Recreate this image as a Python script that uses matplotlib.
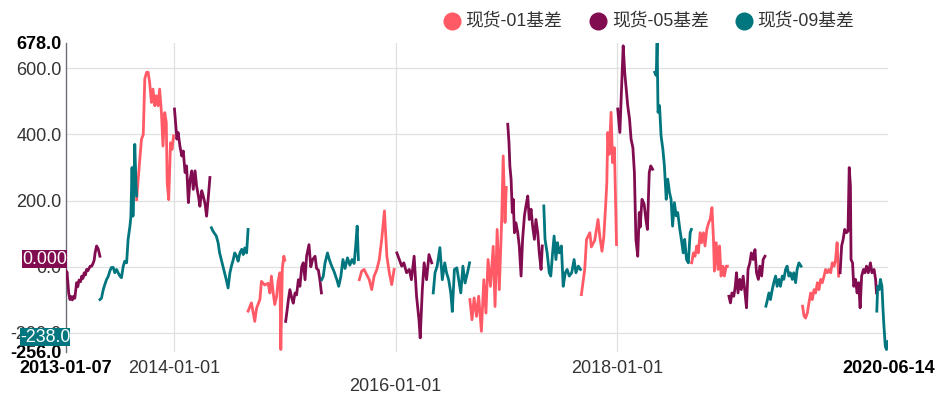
import matplotlib
matplotlib.use("Agg")
import matplotlib.pyplot as plt
import numpy as np
import pandas as pd
from matplotlib.patches import Rectangle
from matplotlib.lines import Line2D

plt.rcParams['font.family'] = ['Liberation Sans', 'Noto Sans CJK SC', 'DejaVu Sans']

# ---------------- data ----------------
series_names = ["现货-01基差", "现货-05基差", "现货-09基差"]
series_colors = ["#ff5a66", "#820c50", "#01767f"]

dates_01 = [
    "2013-08-29", "2013-09-04", "2013-09-09", "2013-09-14", "2013-09-20", "2013-09-25", "2013-10-01",
    "2013-10-06", "2013-10-11", "2013-10-17", "2013-10-22", "2013-10-28", "2013-11-02", "2013-11-08",
    "2013-11-13", "2013-11-19", "2013-11-24", "2013-11-30", "2013-12-05", "2013-12-08", "2013-12-13",
    "2013-12-19", "2013-12-24", "2013-12-29",
    "2014-09-01", "2014-09-12", "2014-09-23", "2014-09-29", "2014-10-10", "2014-10-15", "2014-10-26",
    "2014-11-06", "2014-11-12", "2014-11-17", "2014-11-23", "2014-11-28", "2014-12-04", "2014-12-09",
    "2014-12-15", "2014-12-18", "2014-12-23", "2014-12-28", "2014-12-31",
    "2015-09-03", "2015-09-11", "2015-09-19", "2015-09-28", "2015-10-06", "2015-10-14", "2015-10-22",
    "2015-10-31", "2015-11-08", "2015-11-16", "2015-11-25", "2015-12-03", "2015-12-11", "2015-12-19",
    "2015-12-27",
    "2016-09-02", "2016-09-09", "2016-09-16", "2016-09-24", "2016-10-01", "2016-10-10", "2016-10-18",
    "2016-10-25", "2016-11-01", "2016-11-09", "2016-11-18", "2016-11-24", "2016-12-01", "2016-12-08",
    "2016-12-16", "2016-12-21", "2016-12-27", "2016-12-31",
    "2017-09-05", "2017-09-16", "2017-09-22", "2017-10-03", "2017-10-08", "2017-10-19", "2017-10-30",
    "2017-11-05", "2017-11-12", "2017-11-18", "2017-11-24", "2017-11-28", "2017-12-01", "2017-12-06",
    "2017-12-12", "2017-12-17", "2017-12-23", "2017-12-30",
    "2018-09-04", "2018-09-10", "2018-09-15", "2018-09-21", "2018-09-26", "2018-10-02", "2018-10-07",
    "2018-10-13", "2018-10-18", "2018-10-24", "2018-10-30", "2018-11-04", "2018-11-10", "2018-11-15",
    "2018-11-18", "2018-11-24", "2018-11-30", "2018-12-05", "2018-12-10", "2018-12-16", "2018-12-21",
    "2018-12-27", "2018-12-31",
    "2019-09-05", "2019-09-10", "2019-09-15", "2019-09-21", "2019-09-26", "2019-10-02", "2019-10-07",
    "2019-10-13", "2019-10-18", "2019-10-24", "2019-10-29", "2019-11-04", "2019-11-09", "2019-11-15",
    "2019-11-20", "2019-11-26", "2019-12-01", "2019-12-07", "2019-12-12", "2019-12-18", "2019-12-23",
    "2019-12-28", "2020-01-02",
]
basis_01 = [
    203, 274, 330, 385, 400, 568, 588,
    588, 558, 497, 537, 487, 517, 487,
    537, 466, 365, 466, 436, 253, 203,
    375, 355, 396,
    -134, -109, -165, -125, -99, -44, -55,
    -50, -79, -28, -80, -114, -90, -44,
    -18, -250, -5, 32, 20,
    -39, -13, -8, -25, -39, -69, -28,
    -8, 22, 83, 169, 32, -18, -54,
    -8,
    -99, -160, -94, -150, -89, -195, -39,
    -140, 22, -59, 62, -120, 113, -69,
    143, 335, 134, 240,
    -84, -8, 83, 103, 60, 80, 143,
    90, 47, 90, 184, 254, 406, 340,
    467, 315, 360, 67,
    12, 42, 32, 63, 42, 103, 73,
    103, 63, 113, 133, 143, 179, 83,
    -13, 73, -8, 63, -28, 2, -28,
    2, 2,
    -119, -149, -155, -139, -109, -79, -99,
    -69, -79, -48, -69, -38, -48, -28,
    -8, -18, -8, -18, 12, 2, 22,
    73, -28,
]

dates_05 = [
    "2013-01-07", "2013-01-09", "2013-01-11", "2013-01-14", "2013-01-17", "2013-01-21", "2013-01-25",
    "2013-01-29", "2013-02-02", "2013-02-06", "2013-02-09", "2013-02-12", "2013-02-16", "2013-02-20",
    "2013-02-25", "2013-03-01", "2013-03-05", "2013-03-09", "2013-03-13", "2013-03-17", "2013-03-21",
    "2013-03-25", "2013-03-29", "2013-04-03", "2013-04-08", "2013-04-11", "2013-04-14", "2013-04-17",
    "2013-04-19", "2013-04-24", "2013-04-30",
    "2014-01-01", "2014-01-05", "2014-01-09", "2014-01-13", "2014-01-19", "2014-01-25", "2014-01-30",
    "2014-02-05", "2014-02-10", "2014-02-16", "2014-02-21", "2014-02-27", "2014-03-04", "2014-03-10",
    "2014-03-15", "2014-03-21", "2014-03-26", "2014-04-01", "2014-04-06", "2014-04-12", "2014-04-17",
    "2014-04-23", "2014-04-28",
    "2015-01-03", "2015-01-08", "2015-01-12", "2015-01-17", "2015-01-23", "2015-01-28", "2015-02-03",
    "2015-02-08", "2015-02-14", "2015-02-19", "2015-02-25", "2015-03-02", "2015-03-08", "2015-03-13",
    "2015-03-21", "2015-03-27", "2015-04-02", "2015-04-10", "2015-04-15", "2015-04-21", "2015-04-26",
    "2015-05-01",
    "2016-01-05", "2016-01-13", "2016-01-21", "2016-01-28", "2016-02-06", "2016-02-15", "2016-02-22",
    "2016-03-02", "2016-03-10", "2016-03-18", "2016-03-22", "2016-03-29", "2016-04-04", "2016-04-12",
    "2016-04-20", "2016-04-29",
    "2017-01-05", "2017-01-09", "2017-01-12", "2017-01-16", "2017-01-20", "2017-01-23", "2017-01-27",
    "2017-02-01", "2017-02-07", "2017-02-12", "2017-02-18", "2017-02-23", "2017-03-01", "2017-03-06",
    "2017-03-12", "2017-03-17", "2017-03-23", "2017-03-28", "2017-04-03", "2017-04-08", "2017-04-14",
    "2017-04-19", "2017-04-25", "2017-04-29",
    "2018-01-03", "2018-01-10", "2018-01-13", "2018-01-18", "2018-01-21", "2018-01-26", "2018-01-31",
    "2018-02-05", "2018-02-11", "2018-02-16", "2018-02-22", "2018-02-27", "2018-03-04", "2018-03-10",
    "2018-03-15", "2018-03-18", "2018-03-24", "2018-03-31", "2018-04-06", "2018-04-11", "2018-04-17",
    "2018-04-22", "2018-04-28",
    "2019-01-05", "2019-01-10", "2019-01-15", "2019-01-21", "2019-01-26", "2019-01-30", "2019-02-04",
    "2019-02-10", "2019-02-15", "2019-02-21", "2019-02-26", "2019-03-04", "2019-03-09", "2019-03-15",
    "2019-03-20", "2019-03-26", "2019-04-01", "2019-04-06", "2019-04-12", "2019-04-17", "2019-04-23",
    "2019-04-28", "2019-05-04",
    "2020-01-07", "2020-01-12", "2020-01-17", "2020-01-22", "2020-01-28", "2020-02-02", "2020-02-06",
    "2020-02-10", "2020-02-12", "2020-02-17", "2020-02-21", "2020-02-27", "2020-03-03", "2020-03-08",
    "2020-03-13", "2020-03-18", "2020-03-24", "2020-03-29", "2020-04-03", "2020-04-09", "2020-04-16",
    "2020-04-21", "2020-04-28", "2020-05-03", "2020-05-06",
]
basis_05 = [
    -10, -35, -15, -45, -80, -99, -90,
    -100, -89, -95, -70, -48, -60, -40,
    -45, -28, -35, -18, -25, -8, -12,
    -5, 2, 2, 12, 20, 42, 55,
    63, 55, 32,
    477, 430, 386, 406, 365, 335, 350,
    285, 305, 194, 260, 290, 234, 290,
    244, 214, 183, 230, 214, 190, 153,
    214, 270,
    -165, -130, -99, -69, -94, -110, -79,
    -85, -39, -59, 0, 12, -39, 32,
    67, 0, 22, 32, -5, -10, -40,
    -79,
    42, 22, 2, 12, -18, -8, -39,
    32, -89, -160, -215, -69, 12, -39,
    37, 12,
    431, 376, 305, 265, 164, 204, 103,
    133, 103, 63, -28, 83, 154, 184,
    214, 143, 174, 123, 83, 143, 103,
    42, -8, 63,
    477, 406, 477, 588, 668, 588, 537,
    487, 446, 386, 360, 285, 83, 32,
    164, 120, 204, 190, 143, 113, 285,
    305, 295,
    -89, -109, -79, -89, -59, -18, -79,
    -38, -69, -28, -69, -124, -8, 12,
    42, 22, 52, -18, -38, 2, -28,
    22, 32,
    -18, 63, 83, 113, 103, 108, 300,
    244, 22, 12, -59, -38, -79, -48,
    -124, -28, -8, -18, 2, -18, 12,
    -18, -8, -38, -79,
]

dates_09 = [
    "2013-04-30", "2013-05-05", "2013-05-11", "2013-05-16", "2013-05-22", "2013-05-27", "2013-06-02",
    "2013-06-07", "2013-06-13", "2013-06-18", "2013-06-24", "2013-06-29", "2013-07-05", "2013-07-10",
    "2013-07-16", "2013-07-21", "2013-07-27", "2013-08-01", "2013-08-07", "2013-08-10", "2013-08-14",
    "2013-08-17", "2013-08-20", "2013-08-23", "2013-08-27", "2013-08-29",
    "2014-05-03", "2014-05-08", "2014-05-14", "2014-05-19", "2014-05-25", "2014-05-30", "2014-06-05",
    "2014-06-10", "2014-06-16", "2014-06-21", "2014-06-27", "2014-07-03", "2014-07-08", "2014-07-14",
    "2014-07-19", "2014-07-25", "2014-07-30", "2014-08-05", "2014-08-11", "2014-08-16", "2014-08-21",
    "2014-08-27", "2014-09-01",
    "2015-05-02", "2015-05-07", "2015-05-13", "2015-05-21", "2015-05-27", "2015-06-04", "2015-06-12",
    "2015-06-21", "2015-06-27", "2015-07-04", "2015-07-11", "2015-07-18", "2015-07-26", "2015-08-03",
    "2015-08-10", "2015-08-17", "2015-08-22", "2015-08-27", "2015-08-31",
    "2016-05-04", "2016-05-10", "2016-05-17", "2016-05-26", "2016-06-03", "2016-06-11", "2016-06-17",
    "2016-06-24", "2016-07-01", "2016-07-06", "2016-07-13", "2016-07-21", "2016-07-27", "2016-08-03",
    "2016-08-10", "2016-08-17", "2016-08-25", "2016-09-01",
    "2017-05-04", "2017-05-08", "2017-05-15", "2017-05-22", "2017-05-27", "2017-06-02", "2017-06-07",
    "2017-06-13", "2017-06-18", "2017-06-24", "2017-07-01", "2017-07-07", "2017-07-14", "2017-07-20",
    "2017-07-27", "2017-08-04", "2017-08-12", "2017-08-18", "2017-08-26", "2017-09-02",
    "2018-05-05", "2018-05-10", "2018-05-13", "2018-05-16", "2018-05-21", "2018-05-26", "2018-06-01",
    "2018-06-06", "2018-06-12", "2018-06-17", "2018-06-23", "2018-06-28", "2018-07-03", "2018-07-09",
    "2018-07-15", "2018-07-20", "2018-07-27", "2018-08-01", "2018-08-07", "2018-08-12", "2018-08-18",
    "2018-08-24", "2018-08-30", "2018-09-03",
    "2019-05-07", "2019-05-11", "2019-05-17", "2019-05-22", "2019-05-28", "2019-06-02", "2019-06-08",
    "2019-06-13", "2019-06-19", "2019-06-24", "2019-06-30", "2019-07-05", "2019-07-11", "2019-07-16",
    "2019-07-22", "2019-07-27", "2019-08-02", "2019-08-07", "2019-08-13", "2019-08-18", "2019-08-24",
    "2019-08-31",
    "2020-05-07", "2020-05-10", "2020-05-15", "2020-05-19", "2020-05-24", "2020-05-27", "2020-05-30",
    "2020-06-04", "2020-06-08", "2020-06-12", "2020-06-14",
]
basis_09 = [
    -99, -95, -69, -54, -38, -30, -12,
    -2, -2, -18, -8, -18, -28, -33,
    2, 17, 12, 83, 123, 150, 300,
    153, 240, 370, 250, 214,
    118, 108, 100, 93, 73, 42, 20,
    2, -19, -39, -64, -18, 2, 22,
    42, 32, 17, 42, 53, 37, 57,
    42, 113,
    -39, -29, 12, 42, 22, 2, -15,
    -39, -59, -30, 22, -5, 27, 5,
    22, 10, 62, 123, 22,
    -79, -18, 2, 58, -39, 12, -18,
    -39, -79, -135, -8, -3, -39, -79,
    2, -49, -18, 12,
    184, 83, 42, -18, -28, 42, 93,
    22, 73, 42, 63, -59, -18, -8,
    -28, -18, 22, -18, 2, -8,
    588, 578, 677, 467, 487, 396, 355,
    305, 204, 265, 224, 204, 123, 194,
    154, 164, 113, 83, 42, 83, 22,
    12, 103, 113,
    -119, -104, -79, -99, -69, -48, -28,
    -59, -38, -59, -28, -38, -8, 2,
    -28, -18, -38, -18, -48, -8, 12,
    2,
    -134, -59, -69, -38, -59, -119, -170,
    -240, -250, -225, -238,
]

ytick_values = [-256, -200, 0, 200, 400, 600, 678]
ytick_labels = ["-256.0", "-200.0", "0.0", "200.0", "400.0", "600.0", "678.0"]
xtick_dates = ["2013-01-07", "2014-01-01", "2016-01-01", "2018-01-01", "2020-06-14"]
xtick_labels = ["2013-01-07", "2014-01-01", "2016-01-01", "2018-01-01", "2020-06-14"]
marker_labels = ["0.000", "-238.0"]

# ---------------- figure ----------------
W, H = 953, 394
fig = plt.figure(figsize=(W / 100, H / 100), dpi=100)
fig.patch.set_facecolor("white")

def fx(px):
    return px / W

def fy(py):
    return 1 - py / H

ax_l, ax_r, ax_t, ax_b = 65.7, 888.3, 42.5, 351.5
ax = fig.add_axes([fx(ax_l), fy(ax_b), fx(ax_r - ax_l), (ax_b - ax_t) / H])
ax.set_facecolor("white")

grid_c = "#e0e0e0"
for v in ytick_values[1:-1]:
    ax.axhline(v, color=grid_c, lw=0.9, zorder=0)
for d in xtick_dates[1:-1]:
    ax.axvline(pd.Timestamp(d), color=grid_c, lw=0.9, zorder=0)


def with_breaks(dates, vals):
    x = pd.to_datetime(dates)
    y = np.array(vals, dtype=float)
    xs, ys = [x[0]], [y[0]]
    for i in range(1, len(x)):
        if (x[i] - x[i - 1]).days > 60:
            xs.append(x[i - 1] + (x[i] - x[i - 1]) / 2)
            ys.append(np.nan)
        xs.append(x[i])
        ys.append(y[i])
    return xs, ys

for dts, vals, col in [(dates_01, basis_01, series_colors[0]),
                       (dates_05, basis_05, series_colors[1]),
                       (dates_09, basis_09, series_colors[2])]:
    xs, ys = with_breaks(dts, vals)
    ax.plot(xs, ys, color=col, lw=2.0, solid_joinstyle="round", zorder=3)

ax.set_xlim(pd.Timestamp(xtick_dates[0]), pd.Timestamp(xtick_dates[-1]))
ax.set_ylim(ytick_values[0], ytick_values[-1])

for s in ["top", "right", "bottom"]:
    ax.spines[s].set_visible(False)
ax.spines["left"].set_color("#6e7079")
ax.spines["left"].set_linewidth(1.0)

ax.set_yticks(ytick_values)
ax.set_yticklabels(ytick_labels)
ax.set_xticks(pd.to_datetime(xtick_dates))
ax.set_xticklabels(xtick_labels)
ax.tick_params(axis="y", length=0, pad=3, labelsize=13, labelcolor="#333333")
ax.tick_params(axis="x", length=0, pad=6, labelsize=13, labelcolor="#333333")
for lab in [ax.get_yticklabels()[0], ax.get_yticklabels()[-1],
            ax.get_xticklabels()[0], ax.get_xticklabels()[-1]]:
    lab.set_fontweight("bold")
    lab.set_color("#000000")
ax.xaxis.get_major_ticks()[2].set_pad(19)

# legend
leg_circle_x = [452, 598, 744]
leg_text_x = [465, 612, 757]
leg_y = 21
for cx, tx, name, col in zip(leg_circle_x, leg_text_x, series_names, series_colors):
    fig.add_artist(Line2D([fx(cx)], [fy(leg_y)], marker="o", markersize=13, color=col,
                          markeredgewidth=0, transform=fig.transFigure))
    fig.text(fx(tx), fy(leg_y), name, ha="left", va="center", fontsize=12.8,
             color="#333333", family=["Liberation Sans", "Noto Sans CJK SC"])

# end / marker labels on the y axis
boxes = [(22.5, 249.5, 44.5, 18, series_colors[1], marker_labels[0]),
         (20, 328, 50.5, 18, series_colors[2], marker_labels[1])]
for bx, by, bw, bh, col, txt in boxes:
    fig.add_artist(Rectangle((fx(bx), fy(by + bh)), bw / W, bh / H, facecolor=col,
                             edgecolor="none", transform=fig.transFigure, zorder=5))
    fig.text(fx(bx + bw / 2), fy(by + bh / 2 + 0.5), txt, ha="center", va="center",
             fontsize=12.8, color="white", zorder=6)

fig.savefig("out.png", dpi=100, facecolor="white")
